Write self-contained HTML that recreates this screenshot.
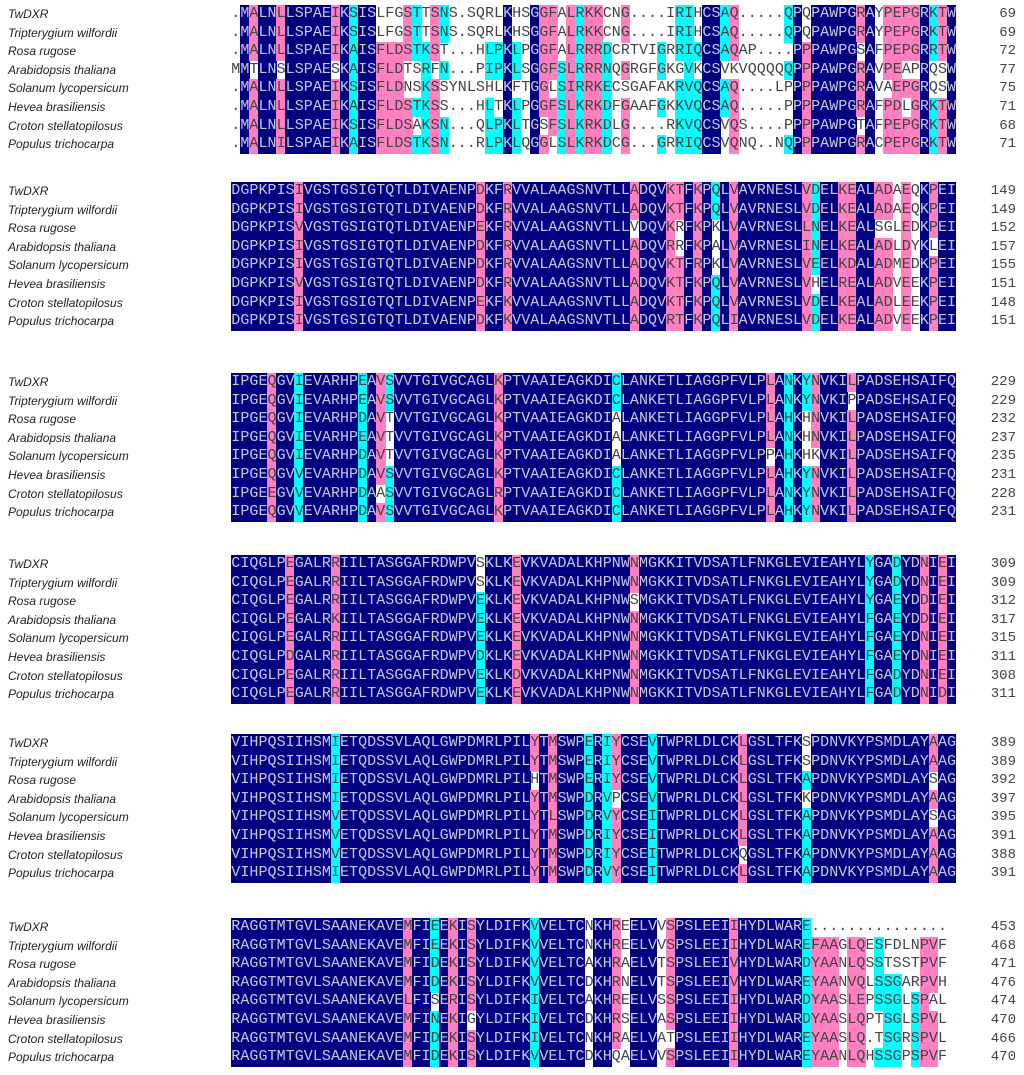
<!DOCTYPE html>
<html><head><meta charset="utf-8">
<style>
html,body{margin:0;padding:0;background:#fff;}
#root{position:relative;width:1024px;height:1075px;overflow:hidden;background:#fff;}
.nm{position:absolute;left:8px;font:italic 12px "Liberation Sans",sans-serif;color:#222;height:19px;line-height:19px;white-space:nowrap;}
.num{position:absolute;right:8px;font:14px "Liberation Mono",monospace;color:#444;height:19px;line-height:19px;text-align:right;}
.c{position:absolute;height:19px;line-height:19px;width:9.6px;text-align:center;font:15px "Liberation Mono",monospace;color:#444;}
</style></head>
<body>
<div id="root"></div>
<script>
const speciesNames = ["TwDXR","Tripterygium wilfordii","Rosa rugose","Arabidopsis thaliana","Solanum lycopersicum","Hevea brasiliensis","Croton stellatopilosus","Populus trichocarpa"];
const block1 = [
".MALNLLSPAEIKSISLFGSTTSNS.SQRLKHSGGFALRKKCNG....IRIHCSAQ.....QPQPAWPGRAYPEPGRKTW",
".MALNLLSPAEIKSISLFGSTTSNS.SQRLKHSGGFALRKKCNG....IRIHCSAQ.....QPQPAWPGRAYPEPGRKTW",
".MALNLLSPAEIKAISFLDSTKST...HLPKLPGGFALRRRDCRTVIGRRIQCSAQAP....PPPAWPGSAFPEPGRRTW",
"MMTLNSLSPAESKAISFLDTSRFN...PIPKLSGGFSLRRRNQGRGFGKGVKCSVKVQQQQQPPPAWPGRAVPEAPRQSW",
".MALNLLSPAEIKSISFLDNSKSSYNLSHLKFTGGLSIRRKECSGAFAKRVQCSAQ....LPPPPAWPGRAVAEPGRQSW",
".MALNLLSPAEIKAISFLDSTKSS...HLTKLPGGFSLKRKDFGAAFGKKVQCSAQ.....PPPPAWPGRAFPDLGRKTW",
".MALNLLSPAEIKSISFLDSAKSN...QLPKLTGSFSLKRKDLG....RKVQCSVQS....PPPPAWPGTAFPEPGRKTW",
".MALNILSPAEIKAISFLDSTKSN...RLPKLQGGLSLKRKDCG...GRRIQCSVQNQ..NQPPPAWPGRACPEPGRKTW"];
const block2 = [
"DGPKPISIVGSTGSIGTQTLDIVAENPDKFRVVALAAGSNVTLLADQVKTFKPQLVAVRNESLVDELKEALADAEQKPEI",
"DGPKPISIVGSTGSIGTQTLDIVAENPDKFRVVALAAGSNVTLLADQVKTFKPQLVAVRNESLVDELKEALADAEQKPEI",
"DGPKPISVVGSTGSIGTQTLDIVAENPEKFRVVALAAGSNVTLLVDQVKRFKPKLVAVRNESLLNELKEALSGLEDKPEI",
"DGPKPISIVGSTGSIGTQTLDIVAENPDKFRVVALAAGSNVTLLADQVRRFKPALVAVRNESLINELKEALADLDYKLEI",
"DGPKPISIVGSTGSIGTQTLDIVAENPDKFRVVALAAGSNVTLLADQVKTFRPKLVAVRNESLVEELKDALADMEDKPEI",
"DGPKPISVVGSTGSIGTQTLDIVAENPDKFRVVALAAGSNVTLLADQVKTFKPQLVAVRNESLVHELREALADVEEKPEI",
"DGPKPISIVGSTGSIGTQTLDIVAENPEKFKVVALAAGSNVTLLADQVKTFKPQLVAVRNESLVDELKEALADLEEKPEI",
"DGPKPISIVGSTGSIGTQTLDIVAENPDKFKVVALAAGSNVTLLADQVRTFKPQLIAVRNESLVDELKEALADVEEKPEI"];
const block3 = [
"IPGEQGVIEVARHPEAVSVVTGIVGCAGLKPTVAAIEAGKDICLANKETLIAGGPFVLPLANKYNVKILPADSEHSAIFQ",
"IPGEQGVIEVARHPEAVSVVTGIVGCAGLKPTVAAIEAGKDICLANKETLIAGGPFVLPLANKYNVKIPPADSEHSAIFQ",
"IPGEQGVIEVARHPDAVTVVTGIVGCAGLKPTVAAIEAGKDIALANKETLIAGGPFVLPLAHKHNVKILPADSEHSAIFQ",
"IPGEQGVIEVARHPEAVTVVTGIVGCAGLKPTVAAIEAGKDIALANKETLIAGGPFVLPLANKHNVKILPADSEHSAIFQ",
"IPGEQGVIEVARHPDAVTVVTGIVGCAGLKPTVAAIEAGKDIALANKETLIAGGPFVLPPAHKHKVKILPADSEHSAIFQ",
"IPGEQGVVEVARHPDAVSVVTGIVGCAGLKPTVAAIEAGKDICLANKETLIAGGPFVLPLAHKYNVKILPADSEHSAIFQ",
"IPGEEGVVEVARHPDAASVVTGIVGCAGLRPTVAAIEAGKDICLANKETLIAGGPFVLPLANKYNVKILPADSEHSAIFQ",
"IPGEQGVVEVARHPDAVSVVTGIVGCAGLKPTVAAIEAGKDICLANKETLIAGGPFVLPLAHKYNVKILPADSEHSAIFQ"];
const block4 = [
"CIQGLPEGALRRIILTASGGAFRDWPVSKLKEVKVADALKHPNWNMGKKITVDSATLFNKGLEVIEAHYLYGADYDNIEI",
"CIQGLPEGALRRIILTASGGAFRDWPVSKLKEVKVADALKHPNWNMGKKITVDSATLFNKGLEVIEAHYLYGADYDNIEI",
"CIQGLPEGALRRIILTASGGAFRDWPVEKLKEVKVADALKHPNWSMGKKITVDSATLFNKGLEVIEAHYLYGAEYDDIEI",
"CIQGLPEGALRKIILTASGGAFRDWPVEKLKEVKVADALKHPNWNMGKKITVDSATLFNKGLEVIEAHYLFGAEYDDIEI",
"CIQGLPEGALRRIILTASGGAFRDWPVEKLKEVKVADALKHPNWNMGKKITVDSATLFNKGLEVIEAHYLFGAEYDNIEI",
"CIQGLPDGALRRIILTASGGAFRDWPVDKLKEVKVADALKHPNWNMGKKITVDSATLFNKGLEVIEAHYLFGAEYDNIEI",
"CIQGLPEGALRRIILTASGGAFRDWPVEKLKDVKVADALKHPNWNMGKKITVDSATLFNKGLEVIEAHYLFGADYDNIEI",
"CIQGLPEGALRRIILTASGGAFRDWPVEKLKEVKVADALKHPNWNMGKKITVDSATLFNKGLEVIEAHYLFGADYDNIDI"];
const block5 = [
"VIHPQSIIHSMIETQDSSVLAQLGWPDMRLPILYTMSWPERIYCSEVTWPRLDLCKLGSLTFKSPDNVKYPSMDLAYAAG",
"VIHPQSIIHSMIETQDSSVLAQLGWPDMRLPILYTMSWPERIYCSEVTWPRLDLCKLGSLTFKSPDNVKYPSMDLAYAAG",
"VIHPQSIIHSMIETQDSSVLAQLGWPDMRLPILHTMSWPERIYCSEVTWPRLDLCKLGSLTFKAPDNVKYPSMDLAYSAG",
"VIHPQSIIHSMIETQDSSVLAQLGWPDMRLPILYTMSWPDRVPCSEVTWPRLDLCKLGSLTFKKPDNVKYPSMDLAYAAG",
"VIHPQSIIHSMVETQDSSVLAQLGWPDMRLPILYTLSWPDRVYCSEITWPRLDLCKLGSLTFKAPDNVKYPSMDLAYSAG",
"VIHPQSIIHSMVETQDSSVLAQLGWPDMRLPILYTMSWPDRIYCSEITWPRLDLCKLGSLTFKAPDNVKYPSMDLAYAAG",
"VIHPQSIIHSMVETQDSSVLAQLGWPDMRLPILYTMSWPDRIYCSEITWPRLDLCKQGSLTFKAPDNVKYPSMDLAYAAG",
"VIHPQSIIHSMIETQDSSVLAQLGWPDMRLPILYTMSWPDRVYCSEITWPRLDLCKLGSLTFKAPDNVKYPSMDLAYAAG"];
const block6 = [
"RAGGTMTGVLSAANEKAVEMFIEEKISYLDIFKVVELTCNKHREELVVSPSLEEIIHYDLWARE...............",
"RAGGTMTGVLSAANEKAVEMFIEEKISYLDIFKVVELTCNKHREELVVSPSLEEIIHYDLWAREFAAGLQESFDLNPVF",
"RAGGTMTGVLSAANEKAVEMFIDEKISYLDIFKVVELTCAKHRAELVTSPSLEEIVHYDLWARDYAANLQSSTSSTPVF",
"RAGGTMTGVLSAANEKAVEMFIDEKISYLDIFKVVELTCDKHRNELVTSPSLEEIVHYDLWAREYAANVQLSSGARPVH",
"RAGGTMTGVLSAANEKAVELFISERISYLDIFKIVELTCAKHREELVSSPSLEEIIHYDLWARDYAASLEPSSGLSPAL",
"RAGGTMTGVLSAANEKAVEMFINEKIGYLDIFKIVELTCDKHRSELVASPSLEEIIHYDLWARDYAASLQPTSGLSPVL",
"RAGGTMTGVLSAANEKAVEMFIDEKISYLDIFKIVELTCNKHRAELVATPSLEEIIHYDLWAREYAASLQ.TSGRSPVL",
"RAGGTMTGVLSAANEKAVEMFIDEKISYLDIFKVVELTCDKHQAELVVSPSLEEIIHYDLWAREYAANLQHSSGPSPVF"];
const endNumbers = [
[69,69,72,77,75,71,68,71],
[149,149,152,157,155,151,148,151],
[229,229,232,237,235,231,228,231],
[309,309,312,317,315,311,308,311],
[389,389,392,397,395,391,388,391],
[453,468,471,476,474,470,466,470]];
const blocks = [block1,block2,block3,block4,block5,block6];

const blockTops=[5,182,373,555,734,918];
const ROW=18.6, X0=231, CW=9.06;
const simPairs=["DE","EQ","KR","IV","IL","LV","LM","IM","VM","FY","DN"];
function similar(a,b){return a===b||simPairs.includes(a+b)||simPairs.includes(b+a);}
const root=document.getElementById('root');

blocks.forEach((blk,bi)=>{
  const top=blockTops[bi];
  const blockEl=document.createElement('div');
  
  
  root.appendChild(blockEl);
  const ncol=Math.max(...blk.map(s=>s.length));
  const colors=blk.map(()=>[]);
  for(let c=0;c<ncol;c++){
    const counts={};
    blk.forEach(s=>{const ch=s[c];if(ch&&ch!=='.'){counts[ch]=(counts[ch]||0)+1;}});
    let max=0;for(const k in counts)max=Math.max(max,counts[k]);
    let level=null;
    if(max>=8)level='#000080';else if(max>=6)level='#ff80c0';else if(max>=4)level='#00ffff';
    const thr=max>=8?8:max>=6?6:4;
    const keys=Object.keys(counts).filter(k=>counts[k]>=thr);
    blk.forEach((s,ri)=>{
      const ch=s[c];
      let col=null;
      if(level&&ch&&ch!=='.'&&keys.some(k=>similar(k,ch)))col=level;
      colors[ri][c]=col;
    });
  }
  blk.forEach((seq,ri)=>{
    const y=top+ri*ROW;
    const nm=document.createElement('div');
    nm.className='nm';nm.style.top=y+'px';nm.textContent=speciesNames[ri];
    
    
    blockEl.appendChild(nm);
    for(let c=0;c<seq.length;c++){
      const d=document.createElement('div');
      d.className='c';
      d.style.left=(X0+c*CW)+'px';d.style.top=y+'px';
      const bg=colors[ri][c];
      if(bg){d.style.background=bg; if(bg==='#000080')d.style.color='#c8c8e6';}
      d.textContent=seq[c];
      
      
      blockEl.appendChild(d);
    }
    const n=document.createElement('div');
    n.className='num';n.style.top=y+'px';n.textContent=endNumbers[bi][ri];
    
    
    blockEl.appendChild(n);
  });
});
</script>
</body></html>
